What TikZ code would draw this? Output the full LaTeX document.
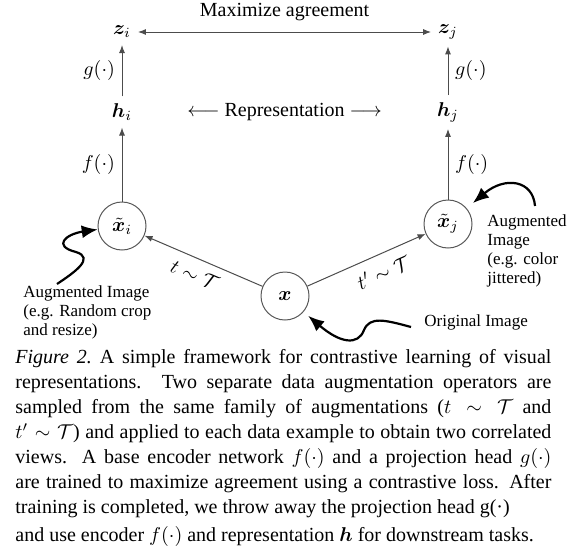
\documentclass[tikz,border=0pt]{standalone}
\usepackage{amsmath}
\usepackage{bm}
\usepackage{fontspec}
\setmainfont{Liberation Serif}
\usetikzlibrary{arrows.meta}

\begin{document}
\begin{tikzpicture}[x=0.5pt, y=-0.5pt,
    lbl/.style={font=\fontsize{10}{12}\selectfont},
    imgnode/.style={circle, draw=black!65, line width=0.5pt, minimum size=24pt, inner sep=0pt, font=\fontsize{10}{12}\selectfont},
    flow/.style={draw=black!70, line width=0.5pt, -{Latex[length=4pt,width=3pt]}},
    curly/.style={line width=1.1pt, -{Latex[length=8pt,width=6.5pt]}},
    note/.style={font=\fontsize{8.5}{9.6}\selectfont, align=left, inner sep=0pt}]
  \useasboundingbox (0,0) rectangle (572,557);
  % three images: original x in the middle, two views left and right
  \node[imgnode] (x)  at (285,296) {$\bm{x}$};
  \node[imgnode] (xi) at (122,226) {$\tilde{\bm{x}}_i$};
  \node[imgnode] (xj) at (448,224) {$\tilde{\bm{x}}_j$};
  % representations h and projections z
  \node[lbl] (hi) at (122,112) {$\bm{h}_i$};
  \node[lbl] (hj) at (448,112) {$\bm{h}_j$};
  \node[lbl] (zi) at (122,32)  {$\bm{z}_i$};
  \node[lbl] (zj) at (448,32)  {$\bm{z}_j$};

  \draw[flow] (x) -- node[lbl, sloped, below, yshift=-1pt, pos=0.52] {$t\sim\mathcal{T}$} (xi);
  \draw[flow] (x) -- node[lbl, sloped, below, yshift=-4pt, pos=0.58, inner sep=1pt] {$t'\sim\mathcal{T}$} (xj);
  \draw[flow] (xi) -- node[lbl, left] {$f(\cdot)$} (hi);
  \draw[flow] (xj) -- node[lbl, right] {$f(\cdot)$} (hj);
  \draw[flow] (hi) -- node[lbl, left] {$g(\cdot)$} (zi);
  \draw[flow] (hj) -- node[lbl, right] {$g(\cdot)$} (zj);
  \draw[flow, {Latex[length=4pt,width=3pt]}-{Latex[length=4pt,width=3pt]}] (zi) -- node[lbl, above, yshift=2pt] {Maximize agreement} (zj);
  \path (hi) -- node[lbl] {$\longleftarrow$ Representation $\longrightarrow$} (hj);

  % hand drawn pointers with their notes
  \coordinate (augl) at (57,284);
  \coordinate (augr) at (535,206);
  \coordinate (orig) at (411,327);
  \draw[curly] (augl) .. controls (75,272) and (95,258) .. (76,252) .. controls (52,246) and (66,234) .. (xi);
  \draw[curly, shorten >=4pt] (augr) .. controls (533,180) and (505,176) .. (xj);
  \draw[curly, shorten >=3pt] (orig) .. controls (385,320) and (370,316) .. (364,330) .. controls (358,346) and (340,343) .. (x);
  \node[note, anchor=north west] (notel) at (23,285) {Augmented Image\\(e.g. Random crop\\and resize)};
  \node[note, anchor=north west] (noter) at (487,214) {Augmented\\Image\\(e.g. color\\jittered)};
  \node[note, anchor=base west] (noteo) at (424,326) {Original Image};

  % caption
  \node[anchor=north west, inner sep=0pt, text width=268pt, align=justify,
        font=\fontsize{10}{12.5}\selectfont] (cap) at (15,349) {\parfillskip=0pt
    {\itshape Figure 2.\@} A simple framework for contrastive learning of visual\linebreak
    representations.  Two separate data augmentation operators are\linebreak
    sampled from the same family of augmentations ($t\sim\mathcal{T}$ and\linebreak
    $t'\sim\mathcal{T}$) and applied to each data example to obtain two correlated\linebreak
    views.  A base encoder network $f(\cdot)$ and a projection head $g(\cdot)$\linebreak
    are trained to maximize agreement using a contrastive loss. After\linebreak
    training is completed, we throw away the projection head g(·)\\[1.5pt]
    and use encoder $f(\cdot)$ and representation $\bm{h}$ for downstream tasks.};
\end{tikzpicture}
\end{document}
